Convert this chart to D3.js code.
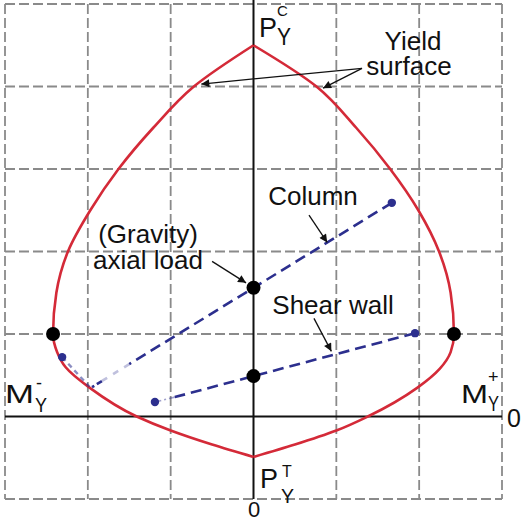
<!DOCTYPE html>
<html>
<head>
<meta charset="utf-8">
<script src="https://cdn.jsdelivr.net/npm/d3@7"></script>
<style>
  html, body { margin: 0; padding: 0; background: #fff; }
  svg { display: block; }
  text { font-family: "Liberation Sans", Arial, sans-serif; fill: #111; }
</style>
</head>
<body>
<svg id="chart" width="522" height="522"></svg>
<script>
// Interaction diagram: moment M (horizontal) vs axial force P (vertical), in grid units
const gridM = [-3, -2, -1, 0, 1, 2, 3];
const gridP = [-1, 0, 1, 2, 3, 4, 5];

// Yield surface, traced from the compression cusp (P_Y^C) down to the tension cusp (P_Y^T)
const yieldLeft = [
  [0, 4.5], [-0.72, 4.0], [-1.21, 3.5], [-1.63, 3.0], [-1.97, 2.5], [-2.24, 2.0],
  [-2.38, 1.5], [-2.42, 1.0], [-2.37, 0.78], [-2.27, 0.6], [-1.98, 0.35],
  [-1.41, 0.0], [-1.0, -0.17], [-0.5, -0.34], [0, -0.49]
];
const yieldRight = [
  [0, 4.5], [0.76, 4.0], [1.24, 3.5], [1.65, 3.0], [1.99, 2.5], [2.24, 2.0],
  [2.38, 1.5], [2.42, 1.0], [2.38, 0.78], [2.25, 0.58], [1.98, 0.35],
  [1.38, 0.0], [1.0, -0.17], [0.5, -0.34], [0, -0.49]
];

// Balance points (M_Y^-, M_Y^+) and gravity axial loads
const yieldPoints = [[-2.42, 1.0], [2.42, 1.0]];
const gravityPoints = [[0, 1.56], [0, 0.49]];

// Load paths
const columnPath = [[1.67, 2.59], [0, 1.56], [-1.5, 0.635]];
const columnFaint = [[-1.5, 0.635], [-1.83, 0.43]];
const columnTail = [[-1.83, 0.43], [-1.95, 0.355]];
const columnSmear = [[-2.31, 0.72], [-1.98, 0.36]];
const columnDots = [[1.67, 2.59], [-2.31, 0.72]];
const shearPath = [[1.95, 1.01], [0, 0.49], [-0.95, 0.235]];
const shearFaint = [[-0.95, 0.235], [-1.19, 0.175]];
const shearDots = [[1.95, 1.01], [-1.19, 0.175]];

// Annotation arrows: [from, to]
const arrows = [
  [[1.31, 4.22], [-0.63, 4.03]],
  [[1.31, 4.22], [0.84, 3.98]],
  [[0.67, 2.44], [0.89, 2.11]],
  [[-0.50, 1.88], [-0.09, 1.62]],
  [[0.73, 1.19], [0.94, 0.79]]
];

const svg = d3.select("#chart");
const x = d3.scaleLinear().domain([-3, 3]).range([5, 502]);
const y = d3.scaleLinear().domain([-1, 5]).range([499, 4]);

const RED = "#d42a38";
const BLUE = "#2c2f8e";
const GREY = "#8a8a8a";

// Dashed grid
const grid = svg.append("g");
grid.selectAll("line.v").data(gridM.filter(d => d !== 0)).join("line")
  .attr("x1", d => x(d)).attr("x2", d => x(d))
  .attr("y1", y(5)).attr("y2", y(-1))
  .attr("stroke", GREY).attr("stroke-width", 1.8).attr("stroke-dasharray", "10,4");
grid.selectAll("line.h").data(gridP.filter(d => d !== 0)).join("line")
  .attr("x1", x(-3)).attr("x2", x(3))
  .attr("y1", d => y(d)).attr("y2", d => y(d))
  .attr("stroke", GREY).attr("stroke-width", 1.8).attr("stroke-dasharray", "10,4");

// Axes through the origin
svg.append("line").attr("x1", x(0)).attr("x2", x(0)).attr("y1", 0).attr("y2", y(-1))
  .attr("stroke", "#111").attr("stroke-width", 2);
svg.append("line").attr("x1", x(-3)).attr("x2", x(3)).attr("y1", y(0)).attr("y2", y(0))
  .attr("stroke", "#111").attr("stroke-width", 2);

// Yield surface: each half is single-valued in P, so interpolate monotonically along P
const curve = d3.line().x(d => x(d[0])).y(d => y(d[1])).curve(d3.curveMonotoneY);
[yieldLeft, yieldRight].forEach(half => {
  svg.append("path").attr("d", curve(half))
    .attr("fill", "none").attr("stroke", RED).attr("stroke-width", 2.6)
    .attr("stroke-linejoin", "round");
});

// Load paths
const straight = d3.line().x(d => x(d[0])).y(d => y(d[1]));
function dashed(pts, opts) {
  svg.append("path").attr("d", straight(pts))
    .attr("fill", "none").attr("stroke", BLUE)
    .attr("stroke-width", opts.w || 2.6)
    .attr("stroke-dasharray", opts.dash || "11,6")
    .attr("opacity", opts.op == null ? 1 : opts.op);
}
dashed(columnPath, {});
dashed(columnFaint, { op: 0.3, dash: "6,7" });
dashed(columnTail, { dash: "6,3" });
dashed(columnSmear, { op: 0.55, dash: "5,4", w: 2.4 });
dashed(shearPath, {});
dashed(shearFaint, { op: 0.45, dash: "6,3,2,3", w: 1.6 });

svg.selectAll("circle.blue").data(columnDots.concat(shearDots)).join("circle")
  .attr("cx", d => x(d[0])).attr("cy", d => y(d[1])).attr("r", 4.2)
  .attr("fill", BLUE);

svg.selectAll("circle.black").data(yieldPoints.concat(gravityPoints)).join("circle")
  .attr("cx", d => x(d[0])).attr("cy", d => y(d[1])).attr("r", 7)
  .attr("fill", "#000");

// Arrowheads
svg.append("defs").append("marker")
  .attr("id", "head").attr("viewBox", "0 0 10 10").attr("refX", 10).attr("refY", 5)
  .attr("markerWidth", 11).attr("markerHeight", 8).attr("markerUnits", "userSpaceOnUse")
  .attr("orient", "auto")
  .append("path").attr("d", "M0,0L10,5L0,10Z").attr("fill", "#111");

svg.selectAll("line.arrow").data(arrows).join("line")
  .attr("x1", d => x(d[0][0])).attr("y1", d => y(d[0][1]))
  .attr("x2", d => x(d[1][0])).attr("y2", d => y(d[1][1]))
  .attr("stroke", "#111").attr("stroke-width", 1.3).attr("marker-end", "url(#head)");

// Labels: each label is one text element built from positioned pieces
function label(parts, anchor) {
  const t = svg.append("text").attr("text-anchor", anchor || "start");
  parts.forEach(p => {
    const s = t.append("tspan").attr("x", p.x).attr("y", p.y)
      .attr("font-size", p.size).text(p.t);
    if (p.len) s.attr("textLength", p.len).attr("lengthAdjust", "spacingAndGlyphs");
  });
  return t;
}
label([{ t: "Yield", x: 413, y: 50, size: 26 }, { t: "surface", x: 409, y: 75, size: 26 }], "middle");
label([{ t: "Column", x: 313, y: 205, size: 26 }], "middle");
label([{ t: "(Gravity)", x: 148, y: 243, size: 26 }, { t: "axial load", x: 148, y: 269, size: 26 }], "middle");
label([{ t: "Shear wall", x: 333, y: 314, size: 26 }], "middle");

// P_Y^C
label([
  { t: "P", x: 259, y: 37, size: 27 },
  { t: "C", x: 277, y: 16, size: 15 },
  { t: "Y", x: 277, y: 45, size: 23, len: 14 }
]);
// P_Y^T
label([
  { t: "P", x: 260, y: 488, size: 27 },
  { t: "T", x: 282, y: 477, size: 16 },
  { t: "Y", x: 281, y: 503, size: 21, len: 13 }
]);
// M_Y^-
label([
  { t: "M", x: 5, y: 403, size: 26, len: 29 },
  { t: "-", x: 36, y: 389, size: 18 },
  { t: "Y", x: 35, y: 412, size: 20, len: 12 }
]);
// M_Y^+
label([
  { t: "M", x: 461, y: 403, size: 26, len: 27 },
  { t: "+", x: 488, y: 383, size: 18 },
  { t: "Y", x: 488, y: 411, size: 22, len: 11 }
]);
// zeros on the axes
label([{ t: "0", x: 507, y: 427, size: 25 }]);
label([{ t: "0", x: 254, y: 517, size: 22 }], "middle");
</script>
</body>
</html>
